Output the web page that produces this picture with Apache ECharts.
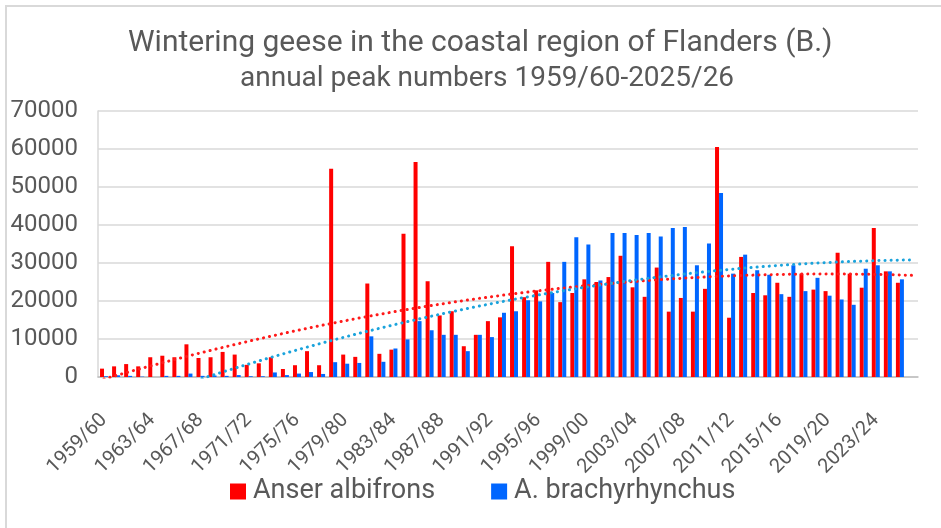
<!DOCTYPE html>
<html>
<head>
<meta charset="utf-8">
<script src="https://cdn.jsdelivr.net/npm/echarts@6/dist/echarts.min.js"></script>
<style>
  html, body { margin: 0; padding: 0; background: #fff; }
  #chart { width: 941px; height: 528px; }
</style>
</head>
<body>
<div id="chart"></div>
<script>
// seasons 1959/60 .. 2026/27 (last one still empty)
const seasons = [];
for (let y = 1959; y <= 2026; y++) {
    seasons.push(y + "/" + String((y + 1) % 100).padStart(2, "0"));
}

// annual peak numbers
const albifrons = [
    2200, 2800, 3400, 2800, 5200, 5600, 5200, 8600, 5000, 5200,
    6600, 5900, 3200, 3600, 5200, 2100, 3100, 6800, 3100, 54800,
    5900, 5300, 24600, 6100, 7200, 37700, 56600, 25200, 16200, 17300,
    8100, 11100, 14700, 15700, 34400, 21000, 22800, 30300, 19700, 22100,
    25700, 25000, 26300, 31900, 23600, 21100, 28800, 17200, 20800, 17200,
    23200, 60500, 15600, 31600, 22100, 21500, 24800, 21100, 27200, 23000,
    22600, 32700, 27200, 23500, 39200, 27800, 24800, null
];
const brachyrhynchus = [
    200, 450, 300, 100, 0, 300, 300, 900, 300, 400,
    300, 500, 200, 200, 1200, 500, 900, 1300, 800, 3900,
    3500, 3700, 10700, 4000, 7500, 9900, 14700, 12300, 11100, 11100,
    6800, 11100, 10500, 16900, 17300, 20200, 19900, 22100, 30300, 36800,
    34900, 25400, 37900, 37900, 37400, 37900, 37000, 39200, 39500, 29400,
    35100, 48400, 27200, 32200, 28100, 26900, 21800, 29400, 22600, 26100,
    21400, 20400, 19000, 28500, 29400, 27800, 25700, null
];

const yTicks = { min: 0, max: 70000, interval: 10000 };

// least squares polynomial trendline (order 2), like the spreadsheet one
function polyTrend(values, order) {
    const n = order + 1;
    const A = [];
    const b = [];
    for (let i = 0; i < n; i++) { A.push(new Array(n).fill(0)); b.push(0); }
    values.forEach((v, k) => {
        if (v == null) return;
        const x = k + 1;
        for (let i = 0; i < n; i++) {
            for (let j = 0; j < n; j++) A[i][j] += Math.pow(x, i + j);
            b[i] += v * Math.pow(x, i);
        }
    });
    // gaussian elimination
    for (let c = 0; c < n; c++) {
        for (let r = c + 1; r < n; r++) {
            const f = A[r][c] / A[c][c];
            for (let j = c; j < n; j++) A[r][j] -= f * A[c][j];
            b[r] -= f * b[c];
        }
    }
    const coef = new Array(n).fill(0);
    for (let r = n - 1; r >= 0; r--) {
        let s = b[r];
        for (let j = r + 1; j < n; j++) s -= A[r][j] * coef[j];
        coef[r] = s / A[r][r];
    }
    return values.map((v, k) => {
        const x = k + 1;
        let s = 0;
        for (let i = 0; i < n; i++) s += coef[i] * Math.pow(x, i);
        return s;
    });
}

const textColor = "#595959";
const font = "Roboto, sans-serif";

const chart = echarts.init(document.getElementById("chart"), null, { renderer: "canvas" });

const option = {
    animation: false,
    backgroundColor: "#fff",
    graphic: [
        {
            type: "rect",
            shape: { x: 6, y: 6, width: 1000, height: 600 },
            style: { fill: "none", stroke: "#d9d9d9", lineWidth: 2 },
            silent: true,
        },
    ],
    title: [
        {
            text: "Wintering geese in the coastal region of Flanders (B.)",
            left: 123,
            top: 23,
            textStyle: { color: textColor, fontSize: 30, fontWeight: "normal", fontFamily: font },
        },
        {
            text: "annual peak numbers 1959/60-2025/26",
            left: 235,
            top: 60,
            textStyle: { color: textColor, fontSize: 28, fontWeight: "normal", fontFamily: font },
        },
    ],
    legend: {
        bottom: 18,
        left: 225,
        itemWidth: 16,
        itemHeight: 16,
        itemGap: 56,
        icon: "rect",
        data: ["Anser albifrons", "A. brachyrhynchus"],
        textStyle: { color: textColor, fontSize: 27, fontFamily: font, padding: [0, 0, 0, 2] },
    },
    grid: {
        left: 98,
        right: 23,
        top: 111,
        bottom: 151,
        containLabel: false,
    },
    xAxis: {
        type: "category",
        data: seasons,
        boundaryGap: true,
        axisLine: { lineStyle: { color: "#bfbfbf", width: 1.5 } },
        axisTick: { interval: 0, length: 7, lineStyle: { color: "#bfbfbf" } },
        axisLabel: {
            interval: 3,
            rotate: 45,
            color: textColor,
            fontSize: 20,
            fontFamily: font,
            margin: 40,
        },
        splitLine: { show: false },
    },
    yAxis: {
        type: "value",
        min: yTicks.min,
        max: yTicks.max,
        interval: yTicks.interval,
        axisLine: { show: true, lineStyle: { color: "#d9d9d9", width: 1.5 } },
        axisTick: { show: false },
        axisLabel: {
            color: textColor,
            fontSize: 24,
            fontFamily: font,
            margin: 20,
            formatter: (v) => String(v),
        },
        splitLine: { lineStyle: { color: "#d9d9d9", width: 1.5 } },
    },
    series: [
        {
            name: "Anser albifrons",
            type: "bar",
            data: albifrons,
            barWidth: 4,
            barGap: "0%",
            itemStyle: { color: "#ff0000" },
        },
        {
            name: "A. brachyrhynchus",
            type: "bar",
            data: brachyrhynchus,
            barWidth: 4,
            barGap: "0%",
            itemStyle: { color: "#0066ff" },
        },
        {
            name: "albifrons trend",
            type: "line",
            data: polyTrend(albifrons, 2),
            symbol: "none",
            clip: true,
            lineStyle: { color: "#ff1a1a", width: 3, type: [0.1, 6], cap: "round" },
            z: 5,
        },
        {
            name: "brachyrhynchus trend",
            type: "line",
            data: polyTrend(brachyrhynchus, 2),
            symbol: "none",
            clip: true,
            lineStyle: { color: "#1aa3dc", width: 3, type: [0.1, 6], cap: "round" },
            z: 5,
        },
    ],
};

chart.setOption(option);
</script>
</body>
</html>
